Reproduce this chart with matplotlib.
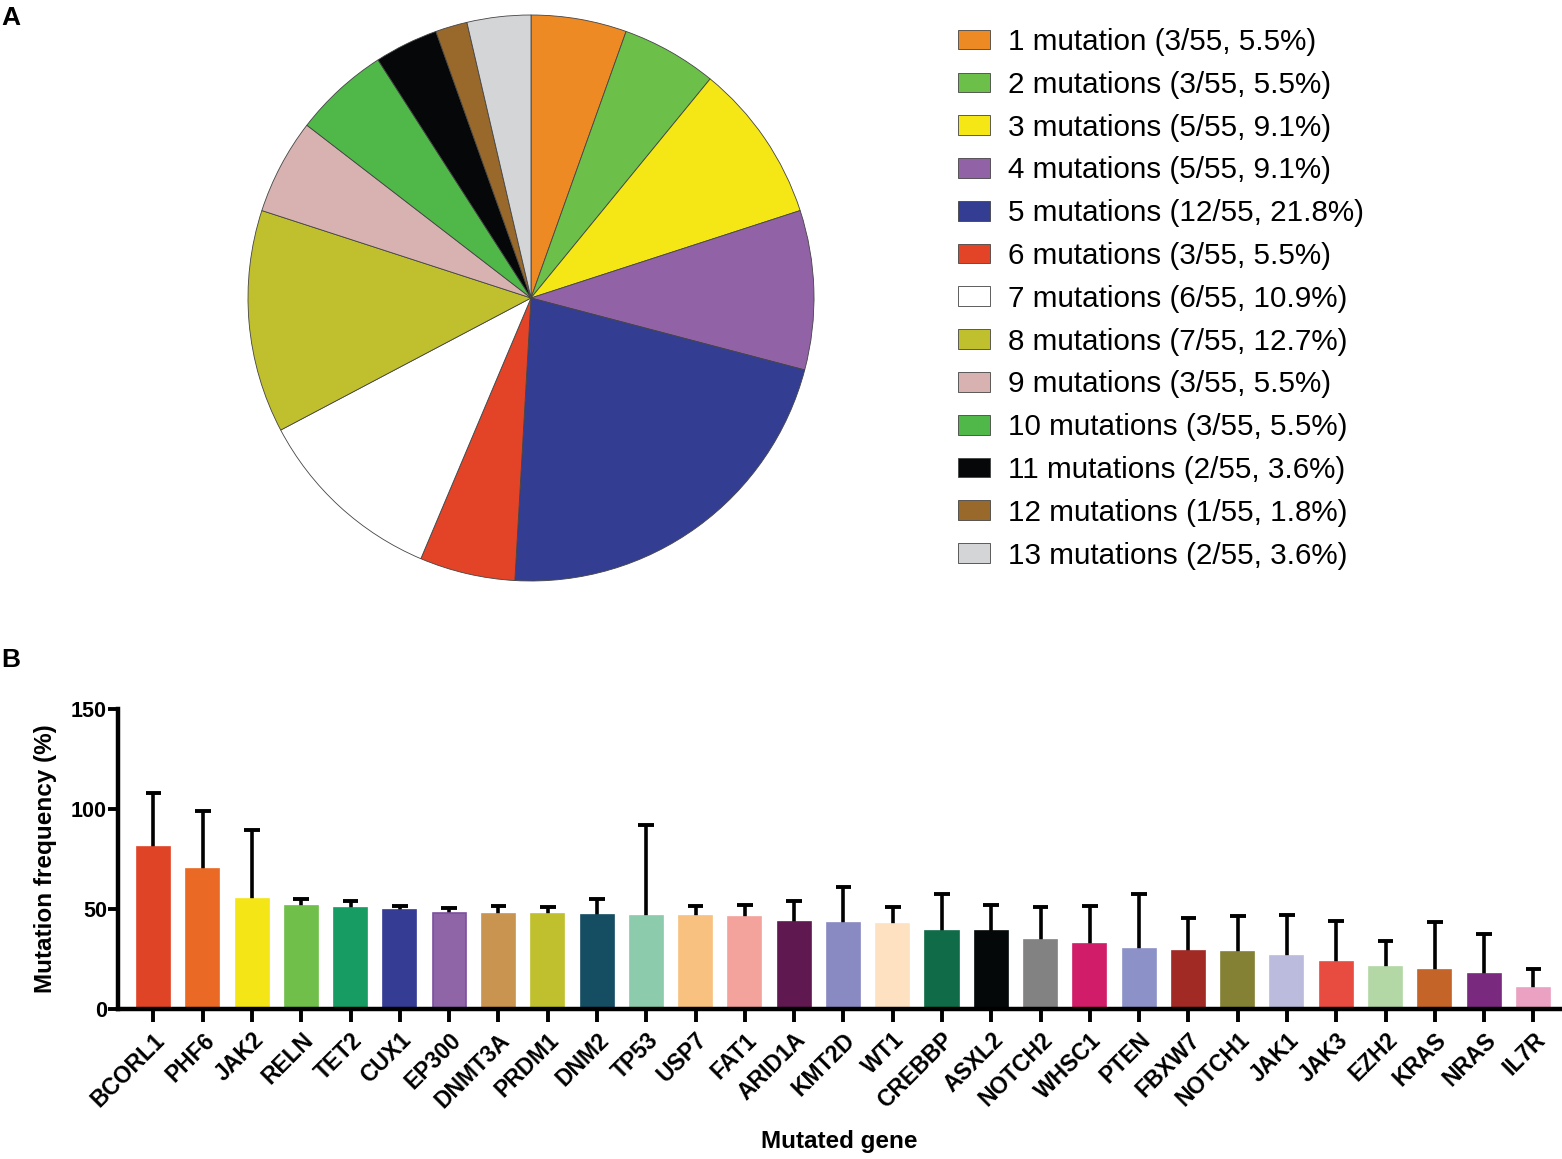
import matplotlib.pyplot as plt
import numpy as np

plt.rcParams['font.family'] = ['Liberation Sans', 'DejaVu Sans']

# panel A data
n_mut = ['1 mutation', '2 mutations', '3 mutations', '4 mutations', '5 mutations',
         '6 mutations', '7 mutations', '8 mutations', '9 mutations', '10 mutations',
         '11 mutations', '12 mutations', '13 mutations']
counts = [3, 3, 5, 5, 12, 3, 6, 7, 3, 3, 2, 1, 2]
total = 55
pie_colors = ['#ee8a24', '#6cc04a', '#f5e616', '#9163a6', '#333e93', '#e34427',
              '#ffffff', '#c0c02f', '#d8b2b0', '#4fb848', '#050708', '#98692b',
              '#d4d5d7']

# panel B data
genes = ['BCORL1', 'PHF6', 'JAK2', 'RELN', 'TET2', 'CUX1', 'EP300', 'DNMT3A',
         'PRDM1', 'DNM2', 'TP53', 'USP7', 'FAT1', 'ARID1A', 'KMT2D', 'WT1',
         'CREBBP', 'ASXL2', 'NOTCH2', 'WHSC1', 'PTEN', 'FBXW7', 'NOTCH1', 'JAK1',
         'JAK3', 'EZH2', 'KRAS', 'NRAS', 'IL7R']
freq = [81, 70, 55, 51.3, 50.6, 49.5, 48, 47.6, 47.6, 47.1, 46.5, 46.5, 46,
        43.5, 43, 42.5, 39, 39, 34.5, 32.7, 30, 29.2, 28.7, 26.5, 23.5, 21,
        19.7, 17.5, 10.5]
upper = [108, 99, 89.5, 55, 54, 51.6, 50.3, 51.3, 50.8, 54.8, 92, 51.5, 52,
         54, 61, 51, 57.5, 52, 51, 51.7, 57.7, 45.7, 46.4, 46.8, 44, 34, 43.5,
         37.5, 20]
bar_colors = ['#e04426', '#ea6a25', '#f3e516', '#70bf4b', '#179c63', '#343c94',
              '#9065a8', '#c9944f', '#c0c02f', '#154d63', '#8ccbac', '#f8c17f',
              '#f4a39c', '#5f1850', '#8a8ac2', '#fde1c0', '#0f6b48', '#050808',
              '#828283', '#d11d69', '#8c92c7', '#a12a25', '#848135', '#babbdd',
              '#e84c40', '#b3d8a5', '#c46428', '#7a2a7e', '#eba2c2']

W, H = 1562, 1159
fig = plt.figure(figsize=(W / 100, H / 100), dpi=100)

# ---- A: pie ----
cx, cy, r = 531, 298, 283
axA = fig.add_axes([(cx - r) / W, (H - cy - r) / H, 2 * r / W, 2 * r / H])
wedges, _ = axA.pie(counts, colors=pie_colors, startangle=90, counterclock=False,
                    wedgeprops=dict(edgecolor='#444444', linewidth=0.6))
axA.set_xlim(-1, 1)
axA.set_ylim(-1, 1)

labels = ['%s (%d/%d, %.1f%%)' % (n, c, total, 100 * c / total)
          for n, c in zip(n_mut, counts)]
fig.legend(wedges, labels, loc='upper left',
           bbox_to_anchor=(958 / W, 1 - 28 / H), frameon=False, fontsize=21.3,
           handlelength=1.08, handleheight=0.65, handletextpad=0.6,
           labelspacing=0.5, borderpad=0, borderaxespad=0)

# ---- B: bars ----
axB = fig.add_axes([118 / W, (H - 1009) / H, (1560 - 118) / W, 300 / H])
x = np.arange(len(genes))
edge = list(bar_colors)
edge[6] = '#7b4f9e'
axB.bar(x, freq, width=0.67, color=bar_colors, edgecolor=edge, linewidth=1.2,
        zorder=2)
# upper error bars only
axB.vlines(x, freq, upper, color='black', linewidth=2.6, zorder=1)
axB.hlines(upper, x - 0.16, x + 0.16, color='black', linewidth=2.8, zorder=1)

axB.set_xlim(-0.72, 28.54)
axB.set_ylim(0, 150)
axB.set_yticks([0, 50, 100, 150])
axB.set_xticks(x)
axB.set_xticklabels(genes, rotation=45, ha='right', rotation_mode='anchor',
                    fontsize=16.5, fontweight='bold')
for lab in axB.get_yticklabels():
    lab.set_fontsize(15.5)
    lab.set_fontweight('bold')
for s in ['top', 'right']:
    axB.spines[s].set_visible(False)
for s in ['left', 'bottom']:
    axB.spines[s].set_linewidth(3.2)
axB.tick_params(axis='x', width=2.8, length=9, pad=5)
axB.tick_params(axis='y', width=2.8, length=7, pad=1)
axB.set_ylabel('Mutation frequency (%)', fontsize=17.5, fontweight='bold', labelpad=10)
axB.set_xlabel('Mutated gene', fontsize=17.5, fontweight='bold', labelpad=12)

fig.text(1 / W, 1 - 18 / H, 'A', fontsize=19, fontweight='bold', va='center')
fig.text(1 / W, 1 - 660 / H, 'B', fontsize=19, fontweight='bold', va='center')

fig.savefig('out.png', dpi=100)
